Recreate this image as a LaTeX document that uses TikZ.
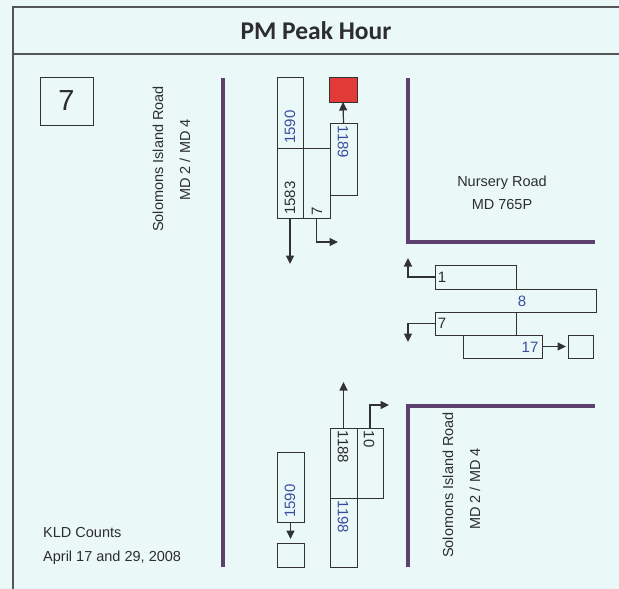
\documentclass[tikz,border=0pt]{standalone}
\usepackage{fontspec}
\setmainfont{Liberation Sans}
\newfontfamily\titlefont{Carlito}
\usetikzlibrary{arrows.meta}
\definecolor{bgc}{RGB}{234,248,248}
\definecolor{framec}{RGB}{85,85,85}
\definecolor{boxc}{RGB}{50,50,50}
\definecolor{roadc}{RGB}{92,64,110}
\definecolor{bluec}{RGB}{58,78,160}
\definecolor{textc}{RGB}{45,45,45}
\definecolor{redc}{RGB}{226,58,54}
\begin{document}
\begin{tikzpicture}[x=1pt,y=-1pt,
  box/.style={draw=boxc, line width=0.9pt, inner sep=0pt, outer sep=0pt},
  arr/.style={draw=boxc, line width=1.2pt, -{Triangle[length=8.5pt,width=8pt]}},
  road/.style={draw=roadc, line width=3.5pt},
  frame/.style={draw=framec, line width=1.3pt},
  num/.style={font=\fontsize{15}{17}\selectfont, text=textc, inner sep=0pt},
  lbl/.style={font=\fontsize{14.5}{17}\selectfont, text=textc, inner sep=0pt}]
\useasboundingbox[fill=bgc] (0,0) rectangle (619,589);
% frame
\draw[frame] (13,589) -- (13,7) -- (619,7);
\draw[frame] (13,54) -- (619,54);
\node[font=\titlefont\bfseries\fontsize{25.5}{30}\selectfont, text=textc] (title) at (316,31) {PM Peak Hour};
% id box
\node[box, minimum width=53pt, minimum height=48pt] (idbox) at (66.5,101) {};
\node[font=\fontsize{29}{34}\selectfont, text=textc, inner sep=0pt] (idnum) at (66.5,101) {7};
% roads
\draw[road] (223,78) -- (223,567);
\draw[road] (408,78) -- (408,242) -- (595,242);
\draw[road] (408,567) -- (408,406) -- (595,406);
% upper movement boxes
\node[box, minimum width=26pt, minimum height=71pt] (b1590u) at (290,112.5) {};
\node[box, minimum width=26pt, minimum height=70pt] (b1583) at (290,183) {};
\node[box, minimum width=27pt, minimum height=70pt] (b7u) at (316.5,183) {};
\node[box, minimum width=27pt, minimum height=72pt] (b1189) at (343.5,159) {};
\node[box, fill=redc, minimum width=28pt, minimum height=25pt] (red) at (343,89.5) {};
% right movement boxes
\node[box, minimum width=81pt, minimum height=24pt] (b1) at (475.5,277) {};
\draw[box] (516,289) -- (596,289) -- (596,312) -- (516,312);
\node[box, minimum width=81pt, minimum height=23pt] (b7r) at (475.5,323.5) {};
\node[box, minimum width=79pt, minimum height=23pt] (b17) at (502.5,346.5) {};
\node[box, minimum width=25pt, minimum height=23pt] (e17) at (580.5,346.5) {};
% lower movement boxes
\node[box, minimum width=27pt, minimum height=70pt] (b1590l) at (290.5,487) {};
\node[box, minimum width=27pt, minimum height=24pt] (e1590) at (290.5,555) {};
\node[box, minimum width=27pt, minimum height=70pt] (b1188) at (343.5,463) {};
\node[box, minimum width=26pt, minimum height=70pt] (b10) at (370,463) {};
\node[box, minimum width=27pt, minimum height=69pt] (b1198) at (343.5,532.5) {};
% arrow ends
\coordinate (t1583) at (290,264);
\coordinate (t7u) at (338,242);
\coordinate (t1) at (408,258);
\coordinate (t7r) at (408,342);
\coordinate (t1188) at (343.5,382);
\coordinate (t10) at (389,405);
% arrows
\draw[arr] (b1189.north) -- (red.south);
\draw[arr] (b1583.south) -- (t1583);
\draw[arr] (b7u.south) |- (t7u);
\draw[arr] (b1.west) -| (t1);
\draw[arr] (b7r.west) -| (t7r);
\draw[arr, shorten >=2pt] (b17.east) -- (e17.west);
\draw[arr, shorten >=4pt] (b1590l.south) -- (e1590.north);
\draw[arr] (b1188.north) -- (t1188);
\draw[arr] (b10.north) |- (t10);
% volumes
\node[num, rotate=90, text=bluec] (n1590u) at (290,127) {1590};
\node[num, rotate=90] (n1583) at (290,198) {1583};
\node[num, rotate=90] (n7u) at (317,211) {7};
\node[num, rotate=-90, text=bluec] (n1189) at (343,142) {1189};
\node[num] (n1) at (442,277) {1};
\node[num, text=bluec] (n8) at (522,301) {8};
\node[num] (n7r) at (442,323.5) {7};
\node[num, text=bluec] (n17) at (530,347) {17};
\node[num, rotate=90, text=bluec] (n1590l) at (290,501) {1590};
\node[num, rotate=-90] (n1188) at (343,447) {1188};
\node[num, rotate=-90] (n10) at (369,439) {10};
\node[num, rotate=-90, text=bluec] (n1198) at (343,517) {1198};
% labels
\node[lbl, rotate=90] (sol1) at (158,159) {Solomons Island Road};
\node[lbl, rotate=90] (md1) at (185,160) {MD 2 / MD 4};
\node[lbl] (nur) at (502,183) {Nursery Road};
\node[lbl] (md765) at (502,205) {MD 765P};
\node[lbl, rotate=90] (sol2) at (448,485) {Solomons Island Road};
\node[lbl, rotate=90] (md2) at (475,489) {MD 2 / MD 4};
\node[lbl, anchor=west] (kld) at (43,533) {KLD Counts};
\node[lbl, anchor=west] (apr) at (43,558) {April 17 and 29, 2008};
\end{tikzpicture}
\end{document}
